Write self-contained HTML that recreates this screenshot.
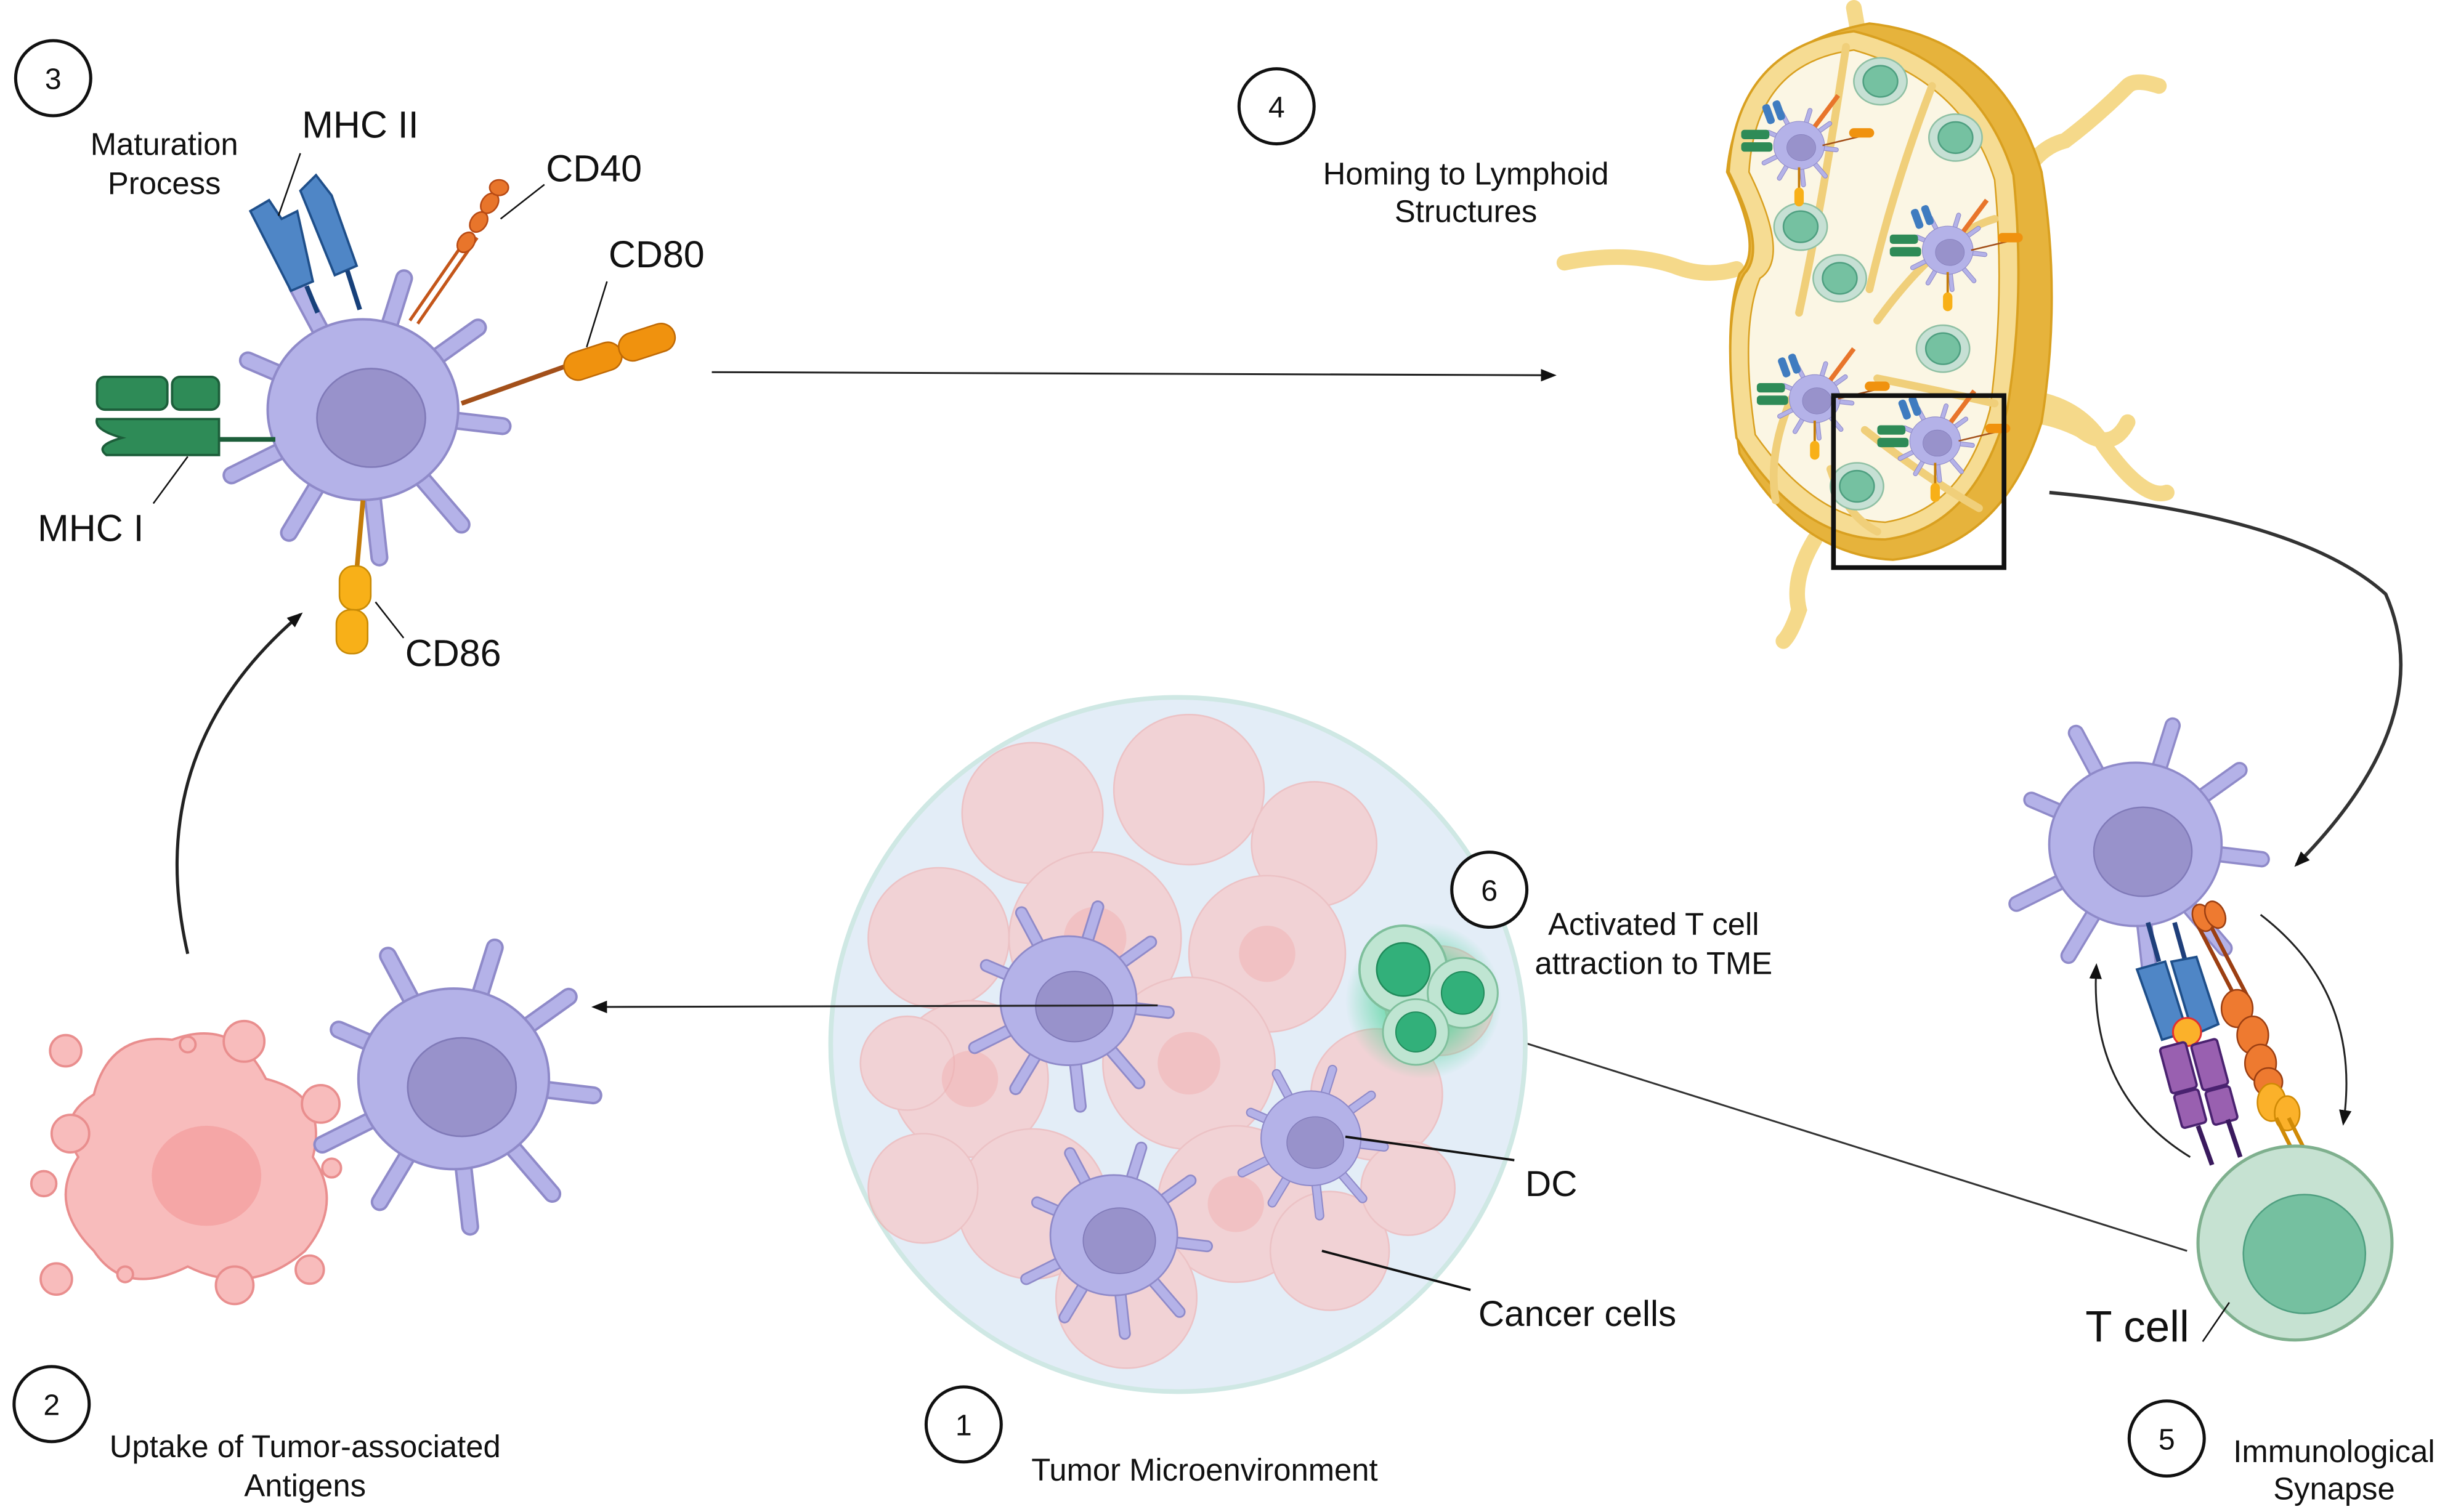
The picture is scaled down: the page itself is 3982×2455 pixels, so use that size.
<!DOCTYPE html>
<html><head><meta charset="utf-8"><style>
html,body{margin:0;padding:0;background:#fff}
svg{display:block}
text{font-family:"Liberation Sans",sans-serif;fill:#111}
</style></head><body>
<svg width="3982" height="2455" viewBox="0 0 1568 967" preserveAspectRatio="none" xmlns="http://www.w3.org/2000/svg">
<defs>
<marker id="ah" markerWidth="10" markerHeight="10" refX="8" refY="5" orient="auto" markerUnits="userSpaceOnUse"><path d="M0,1 L10,5 L0,9 Z" fill="#111"/></marker>
<radialGradient id="glow"><stop offset="0.5" stop-color="#3ed18f" stop-opacity="0.6"/><stop offset="1" stop-color="#3ed18f" stop-opacity="0"/></radialGradient>
<g id="dc">
 <g stroke="#8f8ac9" stroke-width="11" stroke-linecap="round" fill="none">
  <path d="M0,0 L-70,-30 M0,0 L-40,-75 M0,0 L25,-80 M0,0 L70,-50 M0,0 L85,10 M0,0 L60,70 M0,0 L10,90 M0,0 L-45,75 M0,0 L-80,40"/>
 </g>
 <g stroke="#b4b2e8" stroke-width="8" stroke-linecap="round" fill="none">
  <path d="M0,0 L-70,-30 M0,0 L-40,-75 M0,0 L25,-80 M0,0 L70,-50 M0,0 L85,10 M0,0 L60,70 M0,0 L10,90 M0,0 L-45,75 M0,0 L-80,40"/>
 </g>
 <ellipse cx="0" cy="0" rx="58" ry="55" fill="#b4b2e8" stroke="#8f8ac9" stroke-width="1.5"/>
 <ellipse cx="5" cy="5" rx="33" ry="30" fill="#9892cb" stroke="#807ab8" stroke-width="1"/>
</g>
<g id="tc">
 <circle r="28" fill="#bfe5d2" stroke="#7fbf9c" stroke-width="1.5"/>
 <circle r="17" fill="#32b07a" stroke="#1f8a5a" stroke-width="1"/>
</g>
<g id="lc">
 <ellipse rx="17" ry="15" fill="#c6e0d4" stroke="#8fc0a4"/>
 <ellipse rx="11" ry="10" fill="#75c1a1" stroke="#4e9f80"/>
</g>
<g id="mdc">
 <use href="#dc" transform="scale(0.28)"/>
 <rect x="-37" y="-10" width="18" height="6" rx="2" fill="#2e8b57"/>
 <rect x="-37" y="-2" width="20" height="6" rx="2" fill="#2e8b57"/>
 <rect x="-14" y="-32" width="5" height="13" rx="2" fill="#3f7cc0" transform="rotate(-20)"/>
 <rect x="-7" y="-32" width="5" height="13" rx="2" fill="#3f7cc0" transform="rotate(-20)"/>
 <line x1="10" y1="-12" x2="25" y2="-32" stroke="#e8752b" stroke-width="3"/>
 <line x1="15" y1="0" x2="40" y2="-6" stroke="#a3501a" stroke-width="1"/>
 <rect x="32" y="-11" width="16" height="6" rx="3" fill="#f0920e"/>
 <line x1="0" y1="14" x2="0" y2="28" stroke="#c47c0a" stroke-width="1.5"/>
 <rect x="-3" y="27" width="6" height="12" rx="3" fill="#f8b018"/>
</g>
</defs>

<!-- Top-left DC (3) -->
<g transform="translate(232,262) scale(1.05)"><use href="#dc"/></g>
<g fill="#4f86c6" stroke="#1f4f8a" stroke-width="1.5">
 <path d="M160,135 L172,128 L180,140 L190,135 L200,180 L186,186 Z"/>
 <path d="M192,122 L202,112 L212,125 L228,170 L214,176 Z"/>
</g>
<g stroke="#17407a" stroke-width="3"><line x1="196" y1="183" x2="203" y2="200"/><line x1="222" y1="173" x2="230" y2="198"/></g>
<g fill="#2e8b57" stroke="#1c5e3a" stroke-width="1.5">
 <rect x="62" y="241" width="45" height="21" rx="5"/><rect x="110" y="241" width="30" height="21" rx="5"/>
 <path d="M62,268 L140,268 L140,291 L68,291 Q60,285 78,280 Q60,275 62,268 Z"/>
</g>
<line x1="140" y1="281" x2="176" y2="281" stroke="#1c5e3a" stroke-width="3"/>
<g stroke="#c4561a" stroke-width="2"><line x1="262" y1="205" x2="300" y2="150"/><line x1="267" y1="207" x2="305" y2="152"/></g>
<g fill="#e8752b" stroke="#b84a14"><ellipse cx="298" cy="155" rx="7" ry="5" transform="rotate(-55 298 155)"/><ellipse cx="306" cy="142" rx="7" ry="5" transform="rotate(-55 306 142)"/><ellipse cx="313" cy="130" rx="7" ry="5" transform="rotate(-55 313 130)"/><ellipse cx="319" cy="120" rx="6" ry="5"/></g>
<line x1="295" y1="258" x2="365" y2="233" stroke="#a3501a" stroke-width="3"/>
<g fill="#f0920e" stroke="#c06a05"><rect x="360" y="222" width="38" height="18" rx="9" transform="rotate(-18 379 231)"/><rect x="395" y="210" width="37" height="18" rx="9" transform="rotate(-18 413 219)"/></g>
<line x1="232" y1="320" x2="228" y2="365" stroke="#c47c0a" stroke-width="3"/>
<g fill="#f8b018" stroke="#c88a05"><rect x="217" y="362" width="20" height="28" rx="9"/><rect x="215" y="390" width="20" height="28" rx="9"/></g>
<g stroke="#111" stroke-width="1"><line x1="178" y1="138" x2="192" y2="98"/><line x1="320" y1="140" x2="348" y2="118"/><line x1="375" y1="222" x2="388" y2="180"/><line x1="98" y1="322" x2="120" y2="292"/><line x1="240" y1="385" x2="258" y2="408"/></g>
<g font-size="20" text-anchor="middle"><text x="105" y="99">Maturation</text><text x="105" y="124">Process</text></g>
<g font-size="24"><text x="193" y="88">MHC II</text><text x="349" y="116">CD40</text><text x="389" y="171">CD80</text><text x="24" y="346">MHC I</text><text x="259" y="426">CD86</text></g>

<line x1="455" y1="238" x2="993" y2="240" stroke="#222" stroke-width="1.2" marker-end="url(#ah)"/>
<g font-size="20" text-anchor="middle"><text x="937" y="118">Homing to Lymphoid</text><text x="937" y="142">Structures</text></g>

<!-- Lymph node -->
<g fill="none" stroke="#f5d98a" stroke-width="10" stroke-linecap="round">
 <path d="M1000,168 Q1040,160 1070,170 Q1090,178 1110,172"/>
 <path d="M1290,120 Q1300,95 1320,90 Q1340,75 1360,55 Q1365,50 1380,55"/>
 <path d="M1290,265 Q1310,265 1330,275 Q1350,290 1360,270"/>
 <path d="M1300,255 Q1330,260 1345,285 Q1370,320 1385,315"/>
 <path d="M1160,345 Q1145,370 1150,390 Q1145,405 1140,410"/>
 <path d="M1185,5 L1188,22"/>
</g>
<path d="M1195,15 Q1280,25 1305,110 Q1318,190 1305,270 Q1280,350 1210,358 Q1150,355 1112,290 Q1100,210 1112,175 Q1128,160 1104,110 Q1112,30 1195,15 Z" fill="#e6b33c" stroke="#d9a020" stroke-width="1.5"/>
<path d="M1185,20 Q1110,30 1105,110 Q1130,160 1115,175 Q1100,200 1110,280 Q1150,345 1205,345 Q1262,338 1283,262 Q1295,190 1287,112 Q1265,40 1185,20 Z" fill="#f6dc93" stroke="#d9a020" stroke-width="1.5"/>
<path d="M1185,32 Q1122,40 1118,110 Q1145,165 1125,178 Q1112,210 1122,278 Q1160,332 1205,334 Q1255,326 1272,262 Q1282,190 1275,115 Q1255,52 1185,32 Z" fill="#fbf6e4" stroke="#d9a020" stroke-width="1"/>
<g stroke="#f0cf7a" stroke-width="5" fill="none" stroke-linecap="round">
 <path d="M1180,30 Q1165,130 1150,200"/><path d="M1235,55 Q1210,120 1195,185"/><path d="M1275,140 Q1240,150 1200,205"/><path d="M1200,242 Q1240,250 1275,258"/><path d="M1192,275 Q1230,305 1265,325"/><path d="M1170,300 Q1180,330 1200,340"/><path d="M1135,320 Q1130,290 1145,255"/>
</g>
<use href="#lc" x="1202" y="52"/><use href="#lc" x="1250" y="88"/><use href="#lc" x="1151" y="145"/><use href="#lc" x="1176" y="178"/><use href="#lc" x="1242" y="223"/><use href="#lc" x="1187" y="311"/>
<use href="#mdc" x="1150" y="93"/><use href="#mdc" x="1245" y="160"/><use href="#mdc" x="1160" y="255"/><use href="#mdc" x="1237" y="282"/>
<rect x="1172" y="253" width="109" height="110" fill="none" stroke="#111" stroke-width="3"/>

<path d="M1310,315 Q1470,330 1525,380 Q1560,460 1468,553" fill="none" stroke="#333" stroke-width="2.2" marker-end="url(#ah)"/>

<!-- synapse -->
<g transform="translate(1365,540) scale(0.95)"><use href="#dc"/></g>
<g stroke="#1f3f7a" stroke-width="3"><line x1="1373" y1="590" x2="1380" y2="615"/><line x1="1390" y1="590" x2="1397" y2="615"/></g>
<g fill="#4f86c6" stroke="#1f4f8a" stroke-width="1.5"><path d="M1366,620 L1384,615 L1398,660 L1382,665 Z"/><path d="M1388,615 L1404,612 L1418,655 L1402,662 Z"/></g>
<circle cx="1398" cy="660" r="9" fill="#fbb12a" stroke="#e23030" stroke-width="1.2"/>
<g fill="#9960b0" stroke="#4a2270" stroke-width="1.5"><rect x="1384" y="668" width="17" height="30" rx="2" transform="rotate(-15 1392 683)"/><rect x="1404" y="666" width="17" height="30" rx="2" transform="rotate(-15 1412 681)"/><rect x="1392" y="698" width="16" height="22" rx="2" transform="rotate(-15 1400 709)"/><rect x="1412" y="696" width="16" height="22" rx="2" transform="rotate(-15 1420 707)"/></g>
<g stroke="#3a1a5e" stroke-width="3"><line x1="1405" y1="720" x2="1414" y2="745"/><line x1="1424" y1="716" x2="1432" y2="740"/></g>
<g stroke="#9c3f12" stroke-width="2.5"><line x1="1405" y1="592" x2="1430" y2="640"/><line x1="1412" y1="590" x2="1437" y2="638"/></g>
<g fill="#ee7a30" stroke="#9c3f12"><ellipse cx="1408" cy="587" rx="6" ry="9" transform="rotate(-25 1408 587)"/><ellipse cx="1416" cy="585" rx="6" ry="9" transform="rotate(-25 1416 585)"/><ellipse cx="1430" cy="645" rx="10" ry="12"/><ellipse cx="1440" cy="662" rx="10" ry="12"/><ellipse cx="1445" cy="680" rx="10" ry="12"/><ellipse cx="1450" cy="692" rx="9" ry="9"/></g>
<g fill="#fbb12a" stroke="#d08a05"><ellipse cx="1452" cy="705" rx="9" ry="12"/><ellipse cx="1462" cy="712" rx="8" ry="11"/></g>
<g stroke="#d08a05" stroke-width="2.5"><line x1="1455" y1="715" x2="1465" y2="735"/><line x1="1463" y1="715" x2="1473" y2="735"/></g>
<circle cx="1467" cy="795" r="62" fill="#c6e2d2" stroke="#7fb08e" stroke-width="2"/>
<ellipse cx="1473" cy="802" rx="39" ry="38" fill="#75c0a0" stroke="#4f9f80" stroke-width="1"/>
<path d="M1400,740 Q1335,700 1340,618" fill="none" stroke="#222" stroke-width="1.2" marker-end="url(#ah)"/>
<path d="M1445,585 Q1510,635 1498,718" fill="none" stroke="#222" stroke-width="1.2" marker-end="url(#ah)"/>
<line x1="1408" y1="858" x2="1425" y2="833" stroke="#111" stroke-width="1"/>
<text x="1333" y="858" font-size="28">T cell</text>
<g font-size="20" text-anchor="middle"><text x="1492" y="935">Immunological</text><text x="1492" y="959">Synapse</text></g>

<line x1="1398" y1="800" x2="962" y2="663" stroke="#333" stroke-width="1.2" marker-end="url(#ah)"/>

<!-- Tumor -->
<circle cx="753" cy="668" r="222" fill="#e3edf7" stroke="#cfe8e4" stroke-width="3"/>
<g fill="#f8c8c8" stroke="#f0b0b0" stroke-width="1" opacity="0.7">
 <circle cx="660" cy="520" r="45"/><circle cx="760" cy="505" r="48"/><circle cx="840" cy="540" r="40"/><circle cx="600" cy="600" r="45"/>
 <circle cx="700" cy="600" r="55"/><circle cx="810" cy="610" r="50"/><circle cx="620" cy="690" r="50"/><circle cx="760" cy="680" r="55"/>
 <circle cx="880" cy="700" r="42"/><circle cx="660" cy="770" r="48"/><circle cx="790" cy="770" r="50"/><circle cx="720" cy="830" r="45"/>
 <circle cx="850" cy="800" r="38"/><circle cx="590" cy="760" r="35"/><circle cx="920" cy="640" r="35"/><circle cx="580" cy="680" r="30"/><circle cx="900" cy="760" r="30"/>
</g>
<g fill="#f2a8a8" opacity="0.4"><circle cx="700" cy="600" r="20"/><circle cx="810" cy="610" r="18"/><circle cx="760" cy="680" r="20"/><circle cx="620" cy="690" r="18"/><circle cx="790" cy="770" r="18"/></g>
<g transform="translate(683,640) scale(0.75)"><use href="#dc"/></g>
<g transform="translate(838,728) scale(0.55)"><use href="#dc"/></g>
<g transform="translate(712,790) scale(0.7)"><use href="#dc"/></g>
<circle cx="910" cy="640" r="50" fill="url(#glow)"/>
<use href="#tc" x="897" y="620"/><g transform="translate(935,635) scale(0.8)"><use href="#tc"/></g><g transform="translate(905,660) scale(0.75)"><use href="#tc"/></g>
<line x1="740" y1="643" x2="380" y2="644" stroke="#222" stroke-width="1.2" marker-end="url(#ah)"/>
<line x1="860" y1="727" x2="968" y2="742" stroke="#111" stroke-width="1.5"/>
<line x1="845" y1="800" x2="940" y2="825" stroke="#111" stroke-width="1.5"/>
<text x="975" y="765" font-size="23">DC</text>
<text x="945" y="848" font-size="23">Cancer cells</text>
<g font-size="20" text-anchor="middle"><text x="1057" y="598">Activated T cell</text><text x="1057" y="623">attraction to TME</text></g>

<!-- bottom-left -->
<g fill="#f8bcbc" stroke="#e98e8e" stroke-width="1.5">
 <path d="M60,700 Q70,660 110,665 Q150,650 170,690 Q210,700 200,740 Q220,770 195,800 Q160,830 120,810 Q80,830 60,800 Q30,770 50,740 Q35,715 60,700 Z"/>
 <circle cx="42" cy="672" r="10"/><circle cx="156" cy="666" r="13"/><circle cx="120" cy="668" r="5"/><circle cx="45" cy="725" r="12"/><circle cx="28" cy="757" r="8"/><circle cx="205" cy="706" r="12"/><circle cx="212" cy="747" r="6"/><circle cx="36" cy="818" r="10"/><circle cx="80" cy="815" r="5"/><circle cx="150" cy="822" r="12"/><circle cx="198" cy="812" r="9"/>
</g>
<ellipse cx="132" cy="752" rx="35" ry="32" fill="#f49c9c" opacity="0.7"/>
<g transform="translate(290,690) scale(1.05)"><use href="#dc"/></g>
<path d="M120,610 Q90,480 192,393" fill="none" stroke="#222" stroke-width="2" marker-end="url(#ah)"/>
<g font-size="20" text-anchor="middle"><text x="195" y="932">Uptake of Tumor-associated</text><text x="195" y="957">Antigens</text><text x="770" y="947">Tumor Microenvironment</text></g>

<!-- number circles (on top) -->
<g fill="#fff" stroke="#111" stroke-width="2">
<circle cx="34" cy="50" r="24"/><circle cx="816" cy="68" r="24"/><circle cx="33" cy="898" r="24"/>
<circle cx="616" cy="911" r="24"/><circle cx="1385" cy="920" r="24"/><circle cx="952" cy="569" r="24"/>
</g>
<g font-size="19" text-anchor="middle">
<text x="34" y="57">3</text><text x="816" y="75">4</text><text x="33" y="905">2</text>
<text x="616" y="918">1</text><text x="1385" y="927">5</text><text x="952" y="576">6</text>
</g>
</svg>
</body></html>
